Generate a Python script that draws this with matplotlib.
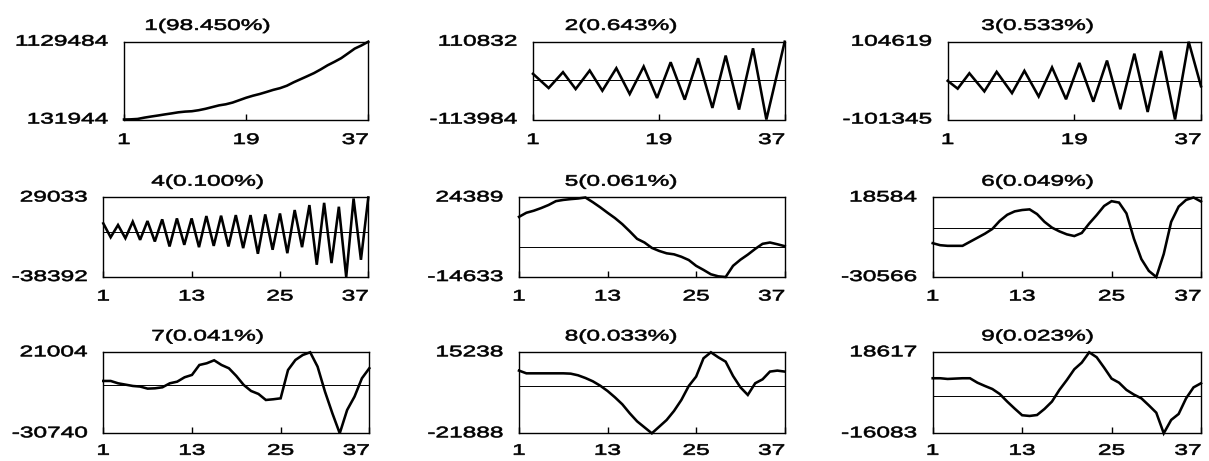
import matplotlib
matplotlib.use("Agg")
import matplotlib.pyplot as plt
from matplotlib.patheffects import AbstractPathEffect
from matplotlib.transforms import Affine2D

# ---- data -----------------------------------------------------------------
steps = list(range(1, 38))

# explained variance of each component (percent)
variance_pct = [98.450, 0.643, 0.533, 0.100, 0.061, 0.049, 0.041, 0.033, 0.023]

pc1 = [131944, 134000, 139000, 156000, 170000, 183000, 197000, 210000, 224000,
       233000, 238000, 251000, 269000, 291000, 313000, 327000, 349000, 380000,
       411000, 437000, 459000, 485000, 512000, 534000, 565000, 609000, 648000,
       687000, 727000, 775000, 827000, 871000, 918000, 979000, 1041000,
       1082000, 1129484]

pc2_x = [1, 3.24, 5.29, 7.10, 9.11, 10.92, 12.92, 14.83, 16.83, 18.74, 20.69,
         22.70, 24.61, 26.66, 28.56, 30.47, 32.47, 34.38, 37]
pc2 = [18000, -23100, 22800, -26000, 27600, -30800, 34300, -40300, 39100,
       -51800, 51500, -56600, 63000, -80500, 70700, -85300, 91700, -113984,
       110832]

pc3_x = [1, 2.42, 4.08, 6.21, 7.96, 10.14, 11.90, 13.93, 15.83, 17.82, 19.71,
         21.70, 23.64, 25.54, 27.53, 29.42, 31.32, 33.31, 35.25, 37]
pc3 = [1000, -19700, 21100, -26900, 24800, -31500, 27500, -40500, 36600,
       -47800, 48400, -54200, 54700, -74100, 72900, -81400, 80100, -101345,
       104619, -13300]

pc4 = [7100, -4700, 5700, -5500, 8500, -6900, 9100, -8300, 10500, -12500,
       11300, -11100, 11300, -13100, 13300, -12000, 13600, -12500, 14100,
       -13900, 14100, -18700, 14700, -15300, 15500, -18200, 18400, -13100,
       22600, -28000, 24500, -26600, 21200, -38392, 28200, -23800, 29033]

pc5 = [14900, 16900, 17900, 19200, 20700, 22600, 23200, 23600, 23900, 24389,
       22100, 19600, 16900, 14300, 11300, 7800, 4100, 2300, -350, -1850, -3000,
       -3500, -4700, -6300, -9150, -11150, -13300, -14300, -14633, -9150,
       -6150, -3650, -850, 1650, 2300, 1450, 500]

pc6 = [-9650, -10900, -11300, -11300, -11300, -8800, -6300, -3800, -860, 4150,
       7900, 10000, 10850, 11250, 8350, 3550, -30, -2350, -4200, -5250, -3350,
       2500, 7700, 13350, 16300, 15450, 8750, -6900, -19500, -26800, -30566,
       -16350, 3550, 12950, 17100, 18584, 16100]

pc7 = [2700, 2700, 1200, 350, -500, -900, -2200, -2000, -1350, 1200, 2250,
       5050, 6550, 12900, 14000, 15900, 12900, 10800, 5900, 150, -3700, -5600,
       -9450, -9000, -8400, 9700, 16100, 19300, 21004, 11850, -4100, -17950,
       -30740, -15850, -7300, 4400, 10800]

pc8 = [6850, 5600, 5600, 5600, 5600, 5600, 5600, 5450, 4700, 3450, 1950, -50,
       -2500, -5400, -8600, -12700, -16400, -19150, -21888, -18850, -15800,
       -11650, -6600, -200, 4100, 12500, 15238, 12950, 10950, 4400, -800,
       -4300, 1050, 2850, 6400, 6850, 6400]

pc9 = [7500, 7500, 7200, 7350, 7500, 7500, 5600, 4200, 2900, 750, -2500,
       -5500, -8350, -8650, -8250, -5650, -2500, 2500, 6750, 11350, 14200,
       18617, 16500, 12050, 7350, 5600, 2500, 500, -1100, -4100, -7250,
       -16083, -10350, -7800, -1100, 3600, 5350]

series = [
    (steps, pc1), (pc2_x, pc2), (pc3_x, pc3),
    (steps, pc4), (steps, pc5), (steps, pc6),
    (steps, pc7), (steps, pc8), (steps, pc9),
]
xticks_by_row = [[1, 19, 37], [1, 13, 25, 37], [1, 13, 25, 37]]

# ---- layout (pixels) --------------------------------------------------------
W, H = 1209, 461
rows_px = [(41.7, 119.5), (197.5, 277.0), (352.3, 433.3)]
cols_px = [[(124.0, 368.3), (533.0, 784.7), (947.7, 1201.0)],
           [(103.3, 368.3), (519.0, 784.7), (932.7, 1201.0)],
           [(103.3, 369.3), (519.0, 784.7), (932.7, 1201.0)]]
title_cx = [207.5, 621.0, 1037.5]
xlabel_gap = [13.5, 12.5, 10.5]     # px between frame bottom and x labels
ylabel_gap = 16.0                   # px between y labels and frame left

FONT = "Liberation Sans"
FS = 11
SX = 1.6


class WideText(AbstractPathEffect):
    """Draw glyph outlines widened horizontally about an anchor edge,
    with a thin outline to give the heavy look of the labels."""

    def __init__(self, sx, anchor="center", stroke=0.45):
        super().__init__()
        self._sx = sx
        self._anchor = anchor
        self._stroke = stroke

    def draw_path(self, renderer, gc, tpath, affine, rgbFace=None):
        ext = tpath.get_extents(affine)
        if self._anchor == "left":
            x0 = ext.x0
        elif self._anchor == "right":
            x0 = ext.x1
        else:
            x0 = 0.5 * (ext.x0 + ext.x1)
        widen = Affine2D().translate(-x0, 0).scale(self._sx, 1).translate(x0, 0)
        gc2 = renderer.new_gc()
        gc2.copy_properties(gc)
        gc2.set_linewidth(self._stroke)
        gc2.set_foreground(rgbFace)
        gc2.set_joinstyle("round")
        renderer.draw_path(gc2, tpath, affine + widen, rgbFace)
        gc2.restore()


def label(ax, text, xy, xycoords, offset, ha, va, anchor):
    t = ax.annotate(text, xy=xy, xycoords=xycoords, xytext=offset,
                    textcoords="offset pixels", ha=ha, va=va,
                    fontsize=FS, fontfamily=FONT, annotation_clip=False)
    t.set_path_effects([WideText(SX, anchor)])
    return t


fig = plt.figure(figsize=(W / 100, H / 100), dpi=100)

for k, (xs, ys) in enumerate(series):
    r, c = divmod(k, 3)
    top, bot = rows_px[r]
    left, right = cols_px[r][c]
    ax = fig.add_axes([left / W, 1 - bot / H, (right - left) / W, (bot - top) / H])

    lo, hi = min(ys), max(ys)
    ax.set_xlim(1, 37)
    ax.set_ylim(lo, hi)
    if lo < 0 < hi:
        ax.axhline(0, color="black", lw=0.7, zorder=1)
    ax.plot(xs, ys, color="black", lw=1.85, solid_joinstyle="miter",
            clip_on=False, zorder=2)

    for sp in ax.spines.values():
        sp.set_linewidth(1.0)
        sp.set_color("black")

    xt = xticks_by_row[r]
    ax.set_xticks(xt)
    ax.set_yticks([])
    ax.tick_params(axis="x", direction="in", length=4, width=1.0,
                   labelbottom=False)

    # x labels: last one kept inside the frame's right edge
    for i, tv in enumerate(xt):
        last = i == len(xt) - 1
        label(ax, str(tv), (tv, 0), ("data", "axes fraction"),
              (0, -xlabel_gap[r]), "right" if last else "center", "top",
              "right" if last else "center")

    # y labels at the two ends of the range
    for v in (lo, hi):
        label(ax, f"{v:d}", (0, v), ("axes fraction", "data"),
              (-ylabel_gap, 0), "right", "center", "right")

    t = ax.set_title(f"{k + 1}({variance_pct[k]:.3f}%)",
                     x=(title_cx[c] - left) / (right - left), pad=8.5,
                     fontsize=FS, fontfamily=FONT)
    t.set_path_effects([WideText(SX, "center")])

fig.savefig("out.png", dpi=100)
